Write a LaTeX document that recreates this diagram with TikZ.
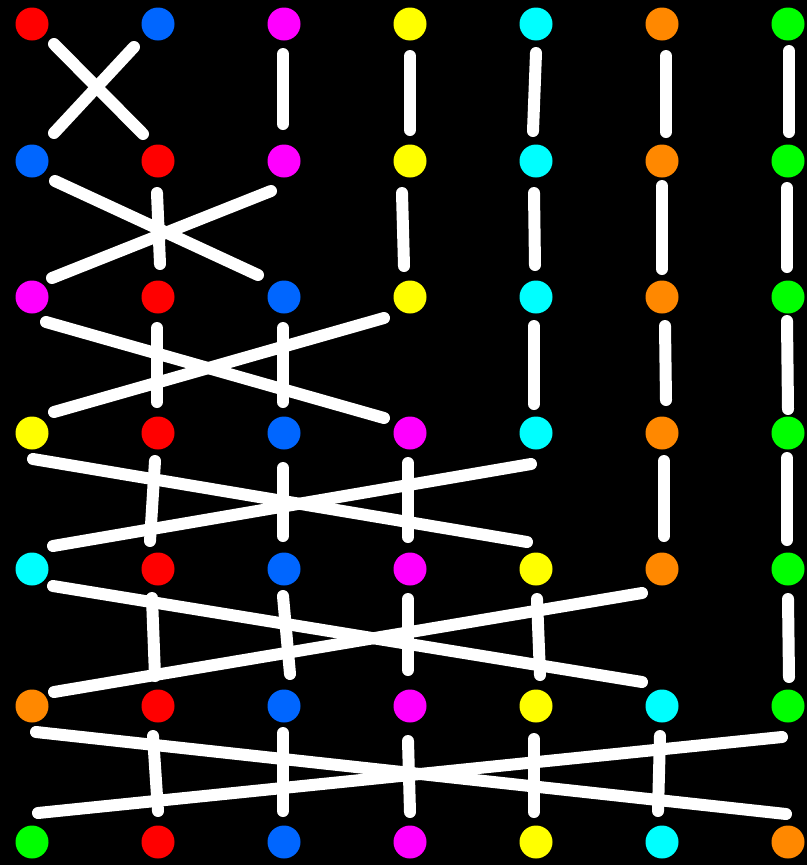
\documentclass[tikz,border=0pt]{standalone}
\usetikzlibrary{calc}
\definecolor{cR}{HTML}{FF0000}
\definecolor{cB}{HTML}{0066FF}
\definecolor{cM}{HTML}{FF00FF}
\definecolor{cY}{HTML}{FFFF00}
\definecolor{cC}{HTML}{00FFFF}
\definecolor{cO}{HTML}{FF8800}
\definecolor{cG}{HTML}{00FF00}
\tikzset{
  dot/.style={circle,inner sep=0pt,minimum size=33pt,draw=none},
  link/.style={white,line width=12pt,line cap=round}
}
\newcommand\dotrow[9]{%
  \node[dot,fill=#3] (r#1c0) at (32,#2) {};
  \node[dot,fill=#4] (r#1c1) at (158,#2) {};
  \node[dot,fill=#5] (r#1c2) at (284,#2) {};
  \node[dot,fill=#6] (r#1c3) at (410,#2) {};
  \node[dot,fill=#7] (r#1c4) at (536,#2) {};
  \node[dot,fill=#8] (r#1c5) at (662,#2) {};
  \node[dot,fill=#9] (r#1c6) at (788,#2) {};}
\newcommand\seg[4]{\draw[link] ($(#1)+(#2)$) -- ($(#3)+(#4)$);}
\begin{document}
\begin{tikzpicture}[x=1pt,y=-1pt]
\fill[black] (0,0) rectangle (807,865);
\useasboundingbox (0,0) rectangle (807,865);
\dotrow{0}{24}{cR}{cB}{cM}{cY}{cC}{cO}{cG}
\dotrow{1}{161}{cB}{cR}{cM}{cY}{cC}{cO}{cG}
\dotrow{2}{297}{cM}{cR}{cB}{cY}{cC}{cO}{cG}
\dotrow{3}{433}{cY}{cR}{cB}{cM}{cC}{cO}{cG}
\dotrow{4}{569}{cC}{cR}{cB}{cM}{cY}{cO}{cG}
\dotrow{5}{706}{cO}{cR}{cB}{cM}{cY}{cC}{cG}
\dotrow{6}{842}{cG}{cR}{cB}{cM}{cY}{cC}{cO}
% row 0 -> 1
\seg{r0c0}{22,20}{r1c1}{-15,-27}
\seg{r0c1}{-24,23}{r1c0}{22,-28}
\seg{r0c2}{-1,30}{r1c2}{-1,-37}
\seg{r0c3}{0,32}{r1c3}{0,-31}
\seg{r0c4}{0,29}{r1c4}{-3,-30}
\seg{r0c5}{4,32}{r1c5}{4,-29}
\seg{r0c6}{1,27}{r1c6}{1,-29}
% row 1 -> 2
\seg{r1c0}{23,20}{r2c2}{-26,-22}
\seg{r1c2}{-13,30}{r2c0}{20,-19}
\seg{r1c1}{-1,32}{r2c1}{2,-33}
\seg{r1c3}{-8,32}{r2c3}{-6,-31}
\seg{r1c4}{-2,32}{r2c4}{-1,-32}
\seg{r1c5}{0,25}{r2c5}{0,-28}
\seg{r1c6}{-1,27}{r2c6}{-1,-30}
% row 2 -> 3
\seg{r2c0}{14,25}{r3c3}{-26,-15}
\seg{r2c3}{-26,21}{r3c0}{22,-21}
\seg{r2c1}{-1,31}{r3c1}{-1,-31}
\seg{r2c2}{-1,31}{r3c2}{-1,-31}
\seg{r2c4}{-2,29}{r3c4}{-2,-29}
\seg{r2c5}{3,29}{r3c5}{4,-33}
\seg{r2c6}{-1,24}{r3c6}{0,-24}
% row 3 -> 4
\seg{r3c0}{1,26}{r4c4}{-9,-27}
\seg{r3c4}{-5,31}{r4c0}{21,-23}
\seg{r3c1}{-3,28}{r4c1}{-8,-28}
\seg{r3c2}{-1,35}{r4c2}{-1,-33}
\seg{r3c3}{-2,30}{r4c3}{-2,-32}
\seg{r3c5}{2,28}{r4c5}{2,-33}
\seg{r3c6}{-1,25}{r4c6}{-1,-29}
% row 4 -> 5
\seg{r4c0}{21,17}{r5c5}{-20,-24}
\seg{r4c5}{-20,24}{r5c0}{22,-14}
\seg{r4c1}{-6,29}{r5c1}{-3,-30}
\seg{r4c2}{-1,27}{r5c2}{6,-32}
\seg{r4c3}{-2,30}{r5c3}{-2,-36}
\seg{r4c4}{1,30}{r5c4}{4,-31}
\seg{r4c6}{0,30}{r5c6}{1,-29}
% row 5 -> 6
\seg{r5c0}{4,26}{r6c6}{-2,-28}
\seg{r5c6}{-6,31}{r6c0}{6,-29}
\seg{r5c1}{-5,30}{r6c1}{0,-31}
\seg{r5c2}{-1,27}{r6c2}{-1,-31}
\seg{r5c3}{-2,35}{r6c3}{0,-30}
\seg{r5c4}{-2,33}{r6c4}{-2,-30}
\seg{r5c5}{-2,30}{r6c5}{-4,-31}
\end{tikzpicture}
\end{document}
